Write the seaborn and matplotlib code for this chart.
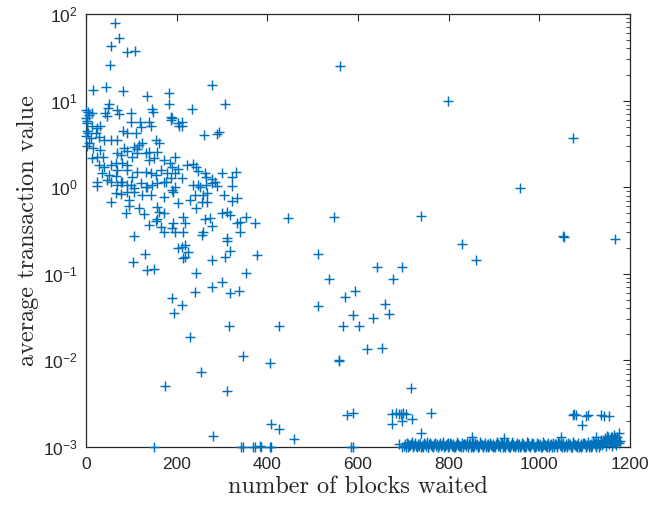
import numpy as np
import pandas as pd
import matplotlib
matplotlib.use("Agg")
import matplotlib.pyplot as plt
import seaborn as sns
from matplotlib.ticker import LogLocator, NullFormatter, LogFormatterSciNotation

# ---------------- data (blocks waited, average transaction value) ----------------
early_cluster = [
    (64, 79), (73, 53), (55, 43), (90, 36), (108, 37), (53, 26), (15, 13.3), (44, 14.4),
    (81, 12.9), (134, 11.3), (183, 12.2), (277, 15.1), (306, 9.1), (233, 8.0), (183, 9.1),
    (260, 4.0), (288, 4.1), (293, 4.3),
    (187, 6.5), (187, 6.0), (205, 5.1), (202, 5.5), (211, 5.7), (211, 5.1), (189, 6.3),
    (196, 2.23), (189, 1.71), (202, 1.62), (196, 1.46), (222, 1.80), (235, 1.85), (242, 1.71),
    (246, 1.54), (211, 1.28), (262, 1.46), (264, 1.31), (279, 1.24), (301, 1.46), (321, 1.31),
    (330, 1.50), (323, 1.03), (288, 1.03), (246, 1.06), (235, 1.06), (196, 1.0), (284, 1.15),
    (264, 1.06), (304, 0.81),
    (51, 9.1), (48, 8.2), (68, 7.8), (99, 7.2), (145, 8.0), (147, 7.4), (4, 7.4), (7, 6.8),
    (13, 7.2), (42, 7.2), (46, 6.6), (73, 7.0), (99, 5.7), (119, 5.7), (139, 5.7), (143, 5.1),
    (121, 5.0), (110, 4.2), (90, 4.2), (81, 4.5), (13, 5.1), (24, 4.8), (31, 5.1), (2, 5.5),
    (4, 4.2), (22, 4.2), (11, 3.7), (29, 3.8), (40, 3.5), (55, 3.5), (68, 3.5), (84, 2.84),
    (90, 2.62), (106, 2.9), (112, 2.76), (117, 3.07), (123, 3.2), (139, 2.55), (154, 3.5),
    (161, 3.2), (156, 2.55), (7, 3.2), (15, 2.84), (31, 2.69), (37, 2.23), (24, 2.23),
    (13, 2.17), (68, 2.48), (77, 2.35), (101, 2.23), (112, 2.48), (132, 2.48), (139, 2.06),
    (150, 2.17), (172, 2.06), (185, 1.90), (66, 1.90), (79, 1.90), (90, 1.80), (29, 1.80),
    (40, 1.71), (55, 1.80), (68, 1.58), (35, 1.46), (51, 1.38), (66, 1.35), (90, 1.58),
    (101, 1.31), (112, 1.50), (132, 1.50), (143, 1.46), (154, 1.38), (165, 1.58), (178, 1.46),
    (24, 1.15), (46, 1.21), (77, 1.15), (99, 1.06), (121, 1.12), (134, 1.0), (156, 1.12),
    (172, 1.15), (187, 1.28),
    (24, 1.03), (55, 1.15), (68, 1.06), (79, 1.15), (90, 1.06), (106, 0.98), (132, 1.0),
    (145, 1.06), (176, 1.15), (189, 0.93), (66, 0.86), (77, 0.83), (90, 0.88), (106, 0.88),
    (123, 0.81), (143, 0.81), (172, 0.77), (55, 0.67), (95, 0.71), (95, 0.61), (117, 0.58),
    (88, 0.50), (128, 0.49), (156, 0.59), (161, 0.52), (172, 0.50), (154, 0.41), (156, 0.43),
    (139, 0.37), (165, 0.35), (172, 0.30), (189, 0.34), (106, 0.27), (130, 0.169),
    (103, 0.137), (134, 0.111), (150, 0.113),
    (251, 1.0), (279, 1.12), (191, 0.88), (202, 0.66), (229, 0.71), (240, 0.81), (257, 0.81),
    (268, 0.86), (255, 0.67), (268, 0.67), (323, 0.69), (332, 0.75), (242, 0.58), (213, 0.45),
    (218, 0.39), (191, 0.39), (196, 0.30), (213, 0.30), (262, 0.43), (273, 0.44), (279, 0.36),
    (299, 0.50), (312, 0.52), (317, 0.48), (334, 0.39), (339, 0.40), (354, 0.45), (372, 0.39),
    (339, 0.30), (257, 0.30), (255, 0.28), (310, 0.26), (312, 0.24), (211, 0.204), (218, 0.215),
    (202, 0.199), (224, 0.179), (218, 0.156), (213, 0.152), (279, 0.144), (306, 0.156),
    (317, 0.183), (378, 0.165), (242, 0.102), (352, 0.102),
    (189, 0.053), (211, 0.044), (194, 0.035), (240, 0.062), (279, 0.070), (299, 0.080),
    (317, 0.060), (337, 0.063), (315, 0.025), (229, 0.0186), (346, 0.0112), (253, 0.0073),
    (174, 0.0051), (310, 0.0044), (280, 0.00134),
    (1, 7.8), (1, 6.3), (3, 5.8), (2, 4.5), (1, 3.9), (3, 3.0),
]

mid_scatter = [
    (561, 25), (799, 10), (445, 0.44), (546, 0.45), (740, 0.47), (511, 0.17), (535, 0.087),
    (641, 0.12), (696, 0.12), (678, 0.087), (572, 0.054), (594, 0.063), (511, 0.0425),
    (660, 0.045), (669, 0.034), (588, 0.033), (566, 0.025), (603, 0.025), (632, 0.031),
    (425, 0.025), (405, 0.0093), (619, 0.0135), (654, 0.014), (557, 0.0101), (558, 0.0098),
    (716, 0.0048), (575, 0.00234), (590, 0.00246), (676, 0.0024), (684, 0.00245),
    (690, 0.0024), (695, 0.00238), (700, 0.00245), (706, 0.0024), (760, 0.00247),
    (676, 0.00185), (698, 0.0020), (720, 0.0021), (738, 0.00145), (409, 0.00185),
    (425, 0.0016), (458, 0.00124),
    (150, 0.001), (343, 0.001), (346, 0.001), (368, 0.00101), (372, 0.001), (383, 0.00103),
    (387, 0.001), (405, 0.00101), (409, 0.001), (584, 0.001), (590, 0.001), (691, 0.00109),
    (697, 0.001),
]

late_outliers = [
    (1074, 3.7), (957, 0.98), (829, 0.22), (860, 0.144), (1052, 0.27), (1055, 0.265),
    (1166, 0.25),
    (1074, 0.00234), (1077, 0.0024), (1080, 0.00232), (1102, 0.0023), (1108, 0.00232),
    (1135, 0.00235), (1142, 0.0023), (1153, 0.0023), (1094, 0.00178), (1175, 0.00145),
    (851, 0.0013), (922, 0.00128), (1047, 0.0013), (1125, 0.0013), (1160, 0.00132),
    (1150, 0.00135),
]

late_band = [
    (702, 0.00104), (706, 0.00101), (710, 0.00107), (713, 0.00103), (717, 0.00109),
    (721, 0.00100), (724, 0.00105), (728, 0.00102), (732, 0.00108), (735, 0.00104),
    (739, 0.00101), (743, 0.00106), (746, 0.00110), (750, 0.00103), (754, 0.00100),
    (757, 0.00107), (761, 0.00105), (765, 0.00102), (768, 0.00109), (772, 0.00104),
    (776, 0.00101), (779, 0.00106), (783, 0.00103), (787, 0.00108), (790, 0.00100),
    (794, 0.00105), (798, 0.00111), (801, 0.00102), (805, 0.00107), (809, 0.00104),
    (812, 0.00101), (816, 0.00106), (820, 0.00109), (823, 0.00103), (827, 0.00100),
    (831, 0.00105), (834, 0.00108), (838, 0.00102), (842, 0.00104), (845, 0.00107),
    (849, 0.00101), (853, 0.00110), (856, 0.00103), (860, 0.00106), (864, 0.00100),
    (867, 0.00104), (871, 0.00108), (875, 0.00102), (878, 0.00105), (882, 0.00101),
    (886, 0.00109), (889, 0.00103), (893, 0.00106), (897, 0.00100), (900, 0.00104),
    (904, 0.00107), (908, 0.00102), (911, 0.00105), (915, 0.00110), (919, 0.00101),
    (922, 0.00104), (926, 0.00107), (930, 0.00103), (933, 0.00100), (937, 0.00106),
    (941, 0.00109), (944, 0.00102), (948, 0.00105), (952, 0.00101), (955, 0.00108),
    (959, 0.00103), (963, 0.00106), (966, 0.00100), (970, 0.00104), (974, 0.00111),
    (977, 0.00102), (981, 0.00105), (985, 0.00108), (988, 0.00101), (992, 0.00104),
    (996, 0.00107), (999, 0.00103), (1003, 0.00100), (1007, 0.00106), (1010, 0.00109),
    (1014, 0.00102), (1018, 0.00105), (1021, 0.00101), (1025, 0.00108), (1029, 0.00104),
    (1032, 0.00100), (1036, 0.00107), (1040, 0.00103), (1043, 0.00110), (1047, 0.00102),
    (1051, 0.00105), (1054, 0.00101), (1058, 0.00108), (1062, 0.00104), (1065, 0.00106),
    (1069, 0.00100), (1073, 0.00103), (1076, 0.00109), (1080, 0.00102), (1084, 0.00105),
    (1087, 0.00101), (1091, 0.00107), (1095, 0.00104), (1098, 0.00110), (1102, 0.00102),
    (1106, 0.00106), (1109, 0.00101), (1113, 0.00108), (1117, 0.00104), (1120, 0.00112),
    (1124, 0.00103), (1128, 0.00107), (1131, 0.00101), (1135, 0.00114), (1139, 0.00105),
    (1142, 0.00118), (1146, 0.00103), (1150, 0.00121), (1153, 0.00108), (1157, 0.00125),
    (1160, 0.00104), (1163, 0.00119), (1166, 0.00110), (1168, 0.00128), (1170, 0.00106),
    (1172, 0.00115),
]

late_band_upper = [
    (704, 0.00108), (708, 0.00112), (711, 0.00100), (715, 0.00105), (719, 0.00113),
    (722, 0.00103), (726, 0.00110), (730, 0.00100), (733, 0.00106), (737, 0.00112),
    (741, 0.00104), (744, 0.00100), (748, 0.00108), (752, 0.00113), (755, 0.00101),
    (759, 0.00110), (763, 0.00104), (766, 0.00100), (770, 0.00112), (774, 0.00107),
    (777, 0.00100), (781, 0.00111), (785, 0.00105), (788, 0.00113), (792, 0.00102),
    (796, 0.00108), (799, 0.00100), (803, 0.00112), (807, 0.00104), (810, 0.00109),
    (814, 0.00100), (818, 0.00113), (821, 0.00106), (825, 0.00102), (829, 0.00111),
    (832, 0.00100), (836, 0.00107), (840, 0.00113), (843, 0.00101), (847, 0.00110),
    (851, 0.00104), (854, 0.00100), (858, 0.00112), (862, 0.00108), (865, 0.00101),
    (869, 0.00113), (873, 0.00105), (876, 0.00100), (880, 0.00111), (884, 0.00106),
    (887, 0.00100), (891, 0.00112), (895, 0.00104), (898, 0.00109), (902, 0.00100),
    (906, 0.00113), (909, 0.00107), (913, 0.00101), (917, 0.00111), (920, 0.00105),
    (924, 0.00100), (928, 0.00112), (931, 0.00108), (935, 0.00101), (939, 0.00113),
    (942, 0.00104), (946, 0.00100), (950, 0.00110), (953, 0.00106), (957, 0.00100),
    (961, 0.00112), (964, 0.00108), (968, 0.00101), (972, 0.00113), (975, 0.00105),
    (979, 0.00100), (983, 0.00111), (986, 0.00107), (990, 0.00100), (994, 0.00112),
    (997, 0.00104), (1001, 0.00109), (1005, 0.00100), (1008, 0.00113), (1012, 0.00106),
    (1016, 0.00101), (1019, 0.00111), (1023, 0.00105), (1027, 0.00100), (1030, 0.00112),
    (1034, 0.00108), (1038, 0.00101), (1041, 0.00113), (1045, 0.00106), (1049, 0.00100),
    (1052, 0.00111), (1056, 0.00104), (1060, 0.00100), (1063, 0.00112), (1067, 0.00109),
    (1071, 0.00101), (1074, 0.00113), (1078, 0.00106), (1082, 0.00100), (1085, 0.00111),
    (1089, 0.00104), (1093, 0.00100), (1096, 0.00112), (1100, 0.00108), (1104, 0.00101),
    (1107, 0.00113), (1111, 0.00106), (1115, 0.00100), (1118, 0.00116), (1122, 0.00108),
    (1126, 0.00101), (1129, 0.00118), (1133, 0.00106), (1137, 0.00122), (1140, 0.00110),
    (1144, 0.00126), (1148, 0.00113), (1151, 0.00130), (1155, 0.00116), (1158, 0.00132),
    (1162, 0.00112), (1165, 0.00136), (1169, 0.00120), (1172, 0.00130), (1175, 0.00110),
    (1178, 0.00118),
]

x_ticks = [0, 200, 400, 600, 800, 1000, 1200]
x_label = "number of blocks waited"
y_label = "average transaction value"

# ---------------- plotting ----------------
sns.set_theme(style="white")
plt.rcParams["font.family"] = ["Liberation Sans", "DejaVu Sans"]
plt.rcParams["axes.unicode_minus"] = False

W, H = 657, 509
fig = plt.figure(figsize=(W / 100, H / 100), dpi=100)
fig.patch.set_facecolor("white")
L, R, T, B = 86, 630, 14, 447
ax = fig.add_axes([L / W, 1 - B / H, (R - L) / W, (B - T) / H])

df = pd.DataFrame(early_cluster + mid_scatter + late_outliers + late_band + late_band_upper,
                  columns=["blocks", "value"])

ax.set_yscale("log")
sns.scatterplot(data=df, x="blocks", y="value", marker="+", s=46,
                color="#0072BD", linewidth=1.05, ax=ax, legend=False, clip_on=False,
                zorder=3)

ax.set_xlim(0, 1200)
ax.set_ylim(1e-3, 1e2)
ax.set_xticks(x_ticks)
ax.set_xticklabels([str(t) for t in x_ticks])
ax.yaxis.set_major_locator(LogLocator(base=10, numticks=10))
ax.yaxis.set_major_formatter(LogFormatterSciNotation(base=10))
ax.yaxis.set_minor_locator(LogLocator(base=10, subs=np.arange(2, 10), numticks=100))
ax.yaxis.set_minor_formatter(NullFormatter())

dark = "#262626"
for sp in ax.spines.values():
    sp.set_visible(True)
    sp.set_color(dark)
    sp.set_linewidth(0.9)

ax.tick_params(axis="both", which="both", direction="in", top=True, right=True,
               colors=dark, labelcolor=dark)
ax.tick_params(axis="both", which="major", length=5, width=0.8, labelsize=12.5)
ax.tick_params(axis="x", which="major", pad=7)
ax.tick_params(axis="y", which="major", pad=6)
ax.tick_params(axis="y", which="minor", length=3, width=0.6)
ax.tick_params(axis="x", which="minor", length=0)

ax.set_xlabel(x_label, fontfamily="cmr10", fontsize=17.5, color=dark, labelpad=3)
ax.set_ylabel(y_label, fontfamily="cmr10", fontsize=17.5, color=dark, labelpad=3)
ax.grid(False)

fig.savefig("out.png", dpi=100, facecolor="white")
